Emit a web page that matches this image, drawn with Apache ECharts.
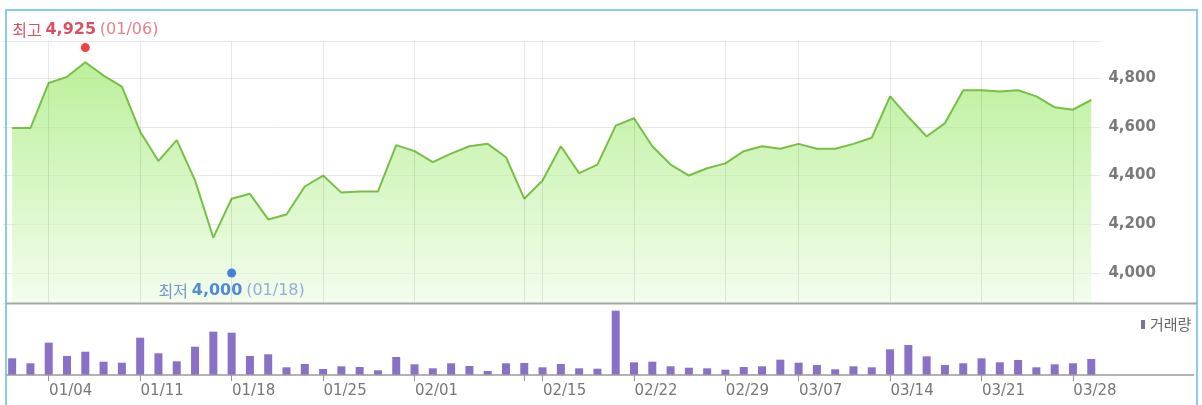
<!DOCTYPE html>
<html>
<head>
<meta charset="utf-8">
<script src="https://cdn.jsdelivr.net/npm/echarts@6/dist/echarts.min.js"></script>
<style>
html,body{margin:0;padding:0;background:#fff;}
#c{width:1202px;height:405px;}
</style>
</head>
<body>
<div id="c"></div>
<script>
const dates = ['12/29','12/30','01/04','01/05','01/06','01/07','01/08','01/11','01/12','01/13','01/14','01/15','01/18','01/19','01/20','01/21','01/22','01/25','01/26','01/27','01/28','01/29','02/01','02/02','02/03','02/04','02/05','02/11','02/12','02/15','02/16','02/17','02/18','02/19','02/22','02/23','02/24','02/25','02/26','02/29','03/02','03/03','03/04','03/07','03/08','03/09','03/10','03/11','03/14','03/15','03/16','03/17','03/18','03/21','03/22','03/23','03/24','03/25','03/28','03/29'];
const prices = [4595,4595,4780,4805,4865,4810,4765,4580,4460,4545,4380,4145,4305,4325,4220,4240,4355,4400,4330,4335,4335,4525,4500,4455,4490,4520,4530,4475,4305,4380,4520,4410,4445,4605,4635,4520,4445,4400,4430,4450,4500,4520,4510,4530,4510,4510,4530,4555,4725,4640,4560,4615,4750,4750,4745,4750,4725,4680,4670,4710];
const volumes = [167,117,323,190,233,133,123,373,217,137,283,433,423,190,207,77,110,60,87,80,47,180,107,67,117,90,40,117,120,77,110,67,63,643,127,133,87,73,67,53,80,87,153,123,100,57,87,77,257,300,187,100,117,167,127,150,77,107,117,160];
const labelDates = ['01/04','01/11','01/18','01/25','02/01','02/15','02/22','02/29','03/07','03/14','03/21','03/28'];
const gridDates = ['01/04','01/11','01/18','01/25','02/01','02/12','02/15','02/22','02/29','03/07','03/14','03/21','03/28'];
const highPoint = ['01/06', 4925];
const lowPoint = ['01/18', 4000];
const yTicks = [4000, 4200, 4400, 4600, 4800];

const fmt = v => v.toLocaleString('en-US');
const chart = echarts.init(document.getElementById('c'));
const GL = 3, GW = 1097.4;
chart.setOption({
  animation: false,
  backgroundColor: '#fff',
  textStyle: {fontFamily: 'DejaVu Sans, "Noto Sans CJK KR", sans-serif'},
  grid: [
    {left: GL, width: GW, top: 41.5, height: 262},
    {left: GL, width: GW, top: 305, height: 70}
  ],
  legend: {
    data: [{name: '거래량', icon: 'rect', itemStyle: {color: '#7b7299'}}],
    left: 1141, top: 317, itemWidth: 4, itemHeight: 9, padding: 0,
    textStyle: {color: '#666', fontSize: 15, fontFamily: '"Noto Sans CJK KR", sans-serif'}
  },
  xAxis: [
    {type: 'category', gridIndex: 0, data: dates, boundaryGap: true,
     axisLine: {show: false}, axisTick: {show: false}, axisLabel: {show: false}, splitLine: {show: false}},
    {type: 'category', gridIndex: 1, data: dates, boundaryGap: true,
     axisLine: {show: false},
     axisTick: {show: true, alignWithLabel: true, length: 6,
       interval: (i, v) => gridDates.includes(dates[i]), lineStyle: {color: '#999'}},
     axisLabel: {interval: (i, v) => labelDates.includes(dates[i]), color: '#777', fontSize: 15,
       margin: 9, padding: [0, 0, 0, 44]},
     splitLine: {show: false}}
  ],
  yAxis: [
    {type: 'value', gridIndex: 0, position: 'right', min: 3875, max: 4950, splitNumber: 5,
     axisLine: {show: false}, axisTick: {show: false},
     axisLabel: {margin: 8, color: '#7a7a7a', fontWeight: 'bold', fontSize: 15,
       formatter: v => yTicks.includes(v) ? fmt(v) : ''},
     splitLine: {lineStyle: {color: '#e8e8e8', width: 1}}},
    {type: 'value', gridIndex: 1, min: 0, max: 700, show: false, splitLine: {show: false}}
  ],
  graphic: [
    {type: 'line', shape: {x1: 6, y1: 303.5, x2: 1197, y2: 303.5}, style: {stroke: '#a6a6a6', lineWidth: 2}, z: 100},
    {type: 'line', shape: {x1: 6, y1: 375, x2: 1194, y2: 375}, style: {stroke: '#9a9a9a', lineWidth: 1.5}, z: 100},
    {type: 'rect', shape: {x: 6, y: 10, width: 1191, height: 430}, style: {fill: 'none', stroke: '#62bce9', lineWidth: 1.5}, z: 101}
  ],
  series: [
    {type: 'line', xAxisIndex: 0, yAxisIndex: 0, data: prices, symbol: 'none',
     lineStyle: {color: '#78bf45', width: 2},
     areaStyle: {color: new echarts.graphic.LinearGradient(0, 0, 0, 1, [
       {offset: 0, color: 'rgba(150,232,100,0.92)'},
       {offset: 1, color: 'rgba(236,252,228,0.9)'}
     ])},
     markLine: {silent: true, symbol: 'none', label: {show: false},
       lineStyle: {color: 'rgba(0,0,0,0.09)', type: 'solid', width: 1},
       data: gridDates.map(d => ({xAxis: d}))}
    },
    {type: 'scatter', xAxisIndex: 0, yAxisIndex: 0, symbolSize: 9, z: 5,
     data: [
       {value: highPoint, itemStyle: {color: '#ee1111'},
        label: {show: true, position: 'top', distance: 5,
          formatter: '{a|최고} {b|' + fmt(highPoint[1]) + '} {c|(' + highPoint[0] + ')}',
          rich: {
            a: {color: '#c8283f', fontSize: 16, fontFamily: '"Noto Sans CJK KR"'},
            b: {color: '#d0243c', fontSize: 16, fontWeight: 'bold'},
            c: {color: '#e0606e', fontSize: 16}
          }}},
       {value: lowPoint, itemStyle: {color: '#1f63d8'},
        label: {show: true, position: 'bottom', distance: 5,
          formatter: '{a|최저} {b|' + fmt(lowPoint[1]) + '} {c|(' + lowPoint[0] + ')}',
          rich: {
            a: {color: '#5a7fc0', fontSize: 16, fontFamily: '"Noto Sans CJK KR"'},
            b: {color: '#2d6cd0', fontSize: 16, fontWeight: 'bold'},
            c: {color: '#7c9bd2', fontSize: 16}
          }}}
     ]},
    {type: 'bar', name: '거래량', xAxisIndex: 1, yAxisIndex: 1, data: volumes, barWidth: 8,
     itemStyle: {color: '#8b70c7'}}
  ]
});
</script>
</body>
</html>
